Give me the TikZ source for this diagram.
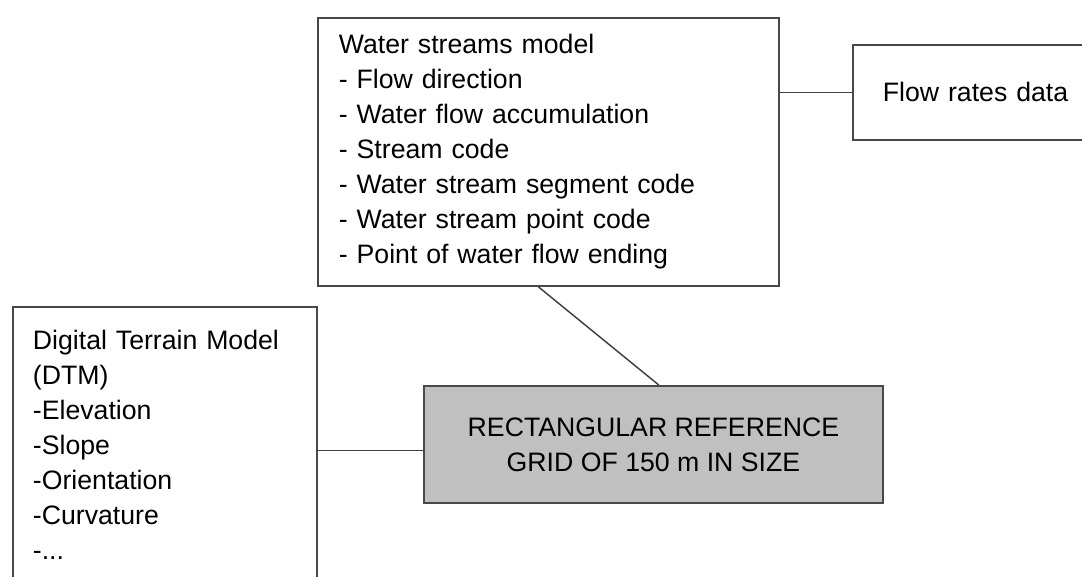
\documentclass[tikz,border=0pt]{standalone}
\usepackage{fontspec}
\setmainfont{Liberation Sans}
\definecolor{gridgray}{HTML}{C0C0C0}
\definecolor{edgegray}{HTML}{484848}
\definecolor{linkgray}{HTML}{404040}

\begin{document}
\begin{tikzpicture}[x=0.75pt, y=-0.75pt,
    box/.style={draw=edgegray, line width=1.4pt, fill=white, anchor=north west,
        inner ysep=0pt, align=left, font={\fontsize{20pt}{26.25pt}\selectfont}},
    link/.style={draw=linkgray, line width=1.1pt}]
    \clip (0,0) rectangle (1082,576);

    % Water streams model
    \node[box, minimum width=345.75pt, minimum height=201pt, inner xsep=15.75pt,
        text width=314.25pt] (water) at (317,17)
        {Water streams model\\
         - Flow direction\\
         - Water flow accumulation\\
         - Stream code\\
         - Water stream segment code\\
         - Water stream point code\\
         - Point of water flow ending};

    % Flow rates data
    \node[box, minimum width=195pt, minimum height=71.25pt, inner xsep=22.5pt,
        text width=150pt] (flow) at (852,44) {Flow rates data};

    % Digital terrain model
    \node[box, minimum width=228pt, minimum height=207pt, inner xsep=15pt,
        text width=198pt] (dtm) at (12,306)
        {Digital Terrain Model\\
         (DTM)\\
         -Elevation\\
         -Slope\\
         -Orientation\\
         -Curvature\\
         -...};

    % Reference grid
    \node[box, fill=gridgray, align=center, minimum width=344.25pt,
        minimum height=87.75pt] (grid) at (423,385)
        {RECTANGULAR REFERENCE\\GRID OF 150 m IN SIZE};

    % Links
    \draw[link] (flow.west) -- (flow.west -| water.east);
    \draw[link] ([yshift=-4.5pt]grid.west) -- ([yshift=-4.5pt]grid.west -| dtm.east);
    \draw[link] ([xshift=-7.5pt]water.south) -- ([xshift=4pt]grid.north);
\end{tikzpicture}
\end{document}
